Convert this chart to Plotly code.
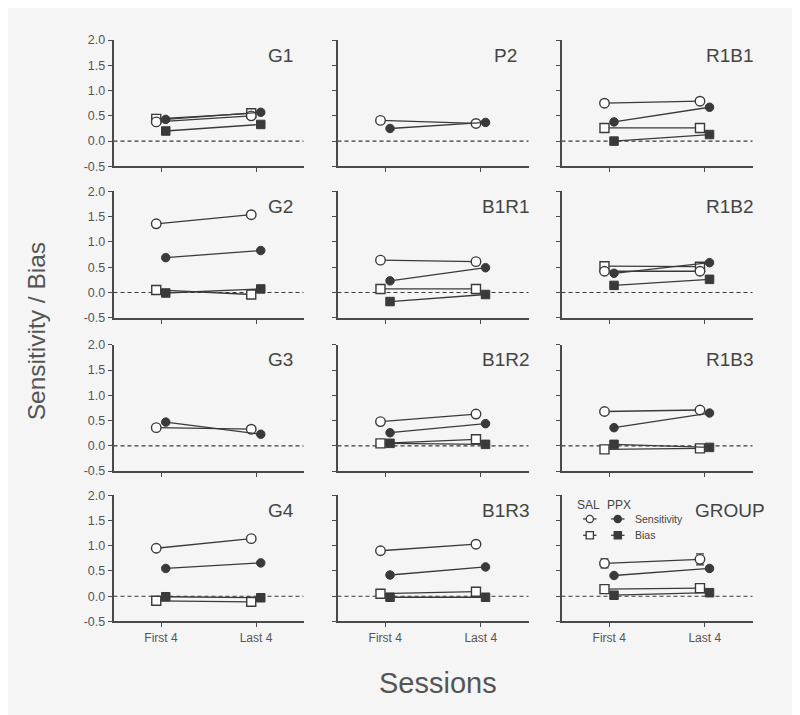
import plotly.graph_objects as go

# ---------------- data ----------------
panels = ["G1", "P2", "R1B1", "G2", "B1R1", "R1B2", "G3", "B1R2", "R1B3", "G4", "B1R3", "GROUP"]
sessions = ["First 4", "Last 4"]
sal_sens = [[0.38, 0.50], [0.41, 0.35], [0.75, 0.79], [1.36, 1.54], [0.64, 0.61], [0.42, 0.42],
            [0.36, 0.33], [0.48, 0.63], [0.68, 0.71], [0.95, 1.14], [0.90, 1.03], [0.65, 0.73]]
ppx_sens = [[0.43, 0.57], [0.25, 0.37], [0.38, 0.67], [0.69, 0.83], [0.23, 0.49], [0.38, 0.59],
            [0.47, 0.23], [0.26, 0.44], [0.36, 0.65], [0.55, 0.66], [0.42, 0.58], [0.41, 0.55]]
sal_bias = [[0.44, 0.55], None, [0.26, 0.26], [0.05, -0.04], [0.07, 0.07], [0.52, 0.51],
            None, [0.05, 0.13], [-0.07, -0.05], [-0.09, -0.11], [0.05, 0.09], [0.14, 0.16]]
ppx_bias = [[0.20, 0.33], None, [0.00, 0.13], [-0.01, 0.07], [-0.18, -0.04], [0.14, 0.26],
            None, [0.05, 0.03], [0.03, -0.03], [-0.01, -0.03], [-0.02, -0.02], [0.02, 0.07]]
group_sal_sens_err = [0.09, 0.11]
y_ticks = [-0.5, 0.0, 0.5, 1.0, 1.5, 2.0]
y_tick_labels = ["-0.5", "0.0", "0.5", "1.0", "1.5", "2.0"]

# ---------------- style / geometry ----------------
W, H = 800, 715
FONT = "Liberation Sans, Arial, sans-serif"
DARK = "#3a3a3a"
AX = "#4a4a4a"
TXT = "#555555"
BG = "#f5f5f5"

# target positions (pixels in the final picture) -> layout coordinates
def px_x(x):
    return (x - 7.5) / W

def px_y(y):
    return 1 - ((y - 15) / 0.978) / H

col_px = [(113, 303), (337, 528), (561, 752)]
row_px = [(40, 166), (191, 317), (344, 470), (494, 620)]
OFF = 0.05
sess_idx = list(range(len(sessions)))

fig = go.Figure()
layout = dict(width=W, height=H, margin=dict(l=0, r=0, t=0, b=0),
              paper_bgcolor=BG, plot_bgcolor=BG, showlegend=False,
              font=dict(family=FONT, color=TXT))
annotations = []
shapes = []

for i, name in enumerate(panels):
    r, c = divmod(i, 3)
    k = i + 1
    xa = "x" if k == 1 else f"x{k}"
    ya = "y" if k == 1 else f"y{k}"
    x0, x1 = col_px[c]
    yt, yb = row_px[r]
    layout[f"xaxis{'' if k == 1 else k}"] = dict(
        domain=[px_x(x0), px_x(x1)], anchor=ya, range=[-0.5, 1.5],
        tickvals=sess_idx, ticktext=sessions, showticklabels=(r == 3),
        showline=True, linecolor=AX, linewidth=1.6, ticks="outside", ticklen=4,
        tickwidth=1.4, tickcolor=AX, showgrid=False, zeroline=False,
        tickfont=dict(size=12, color=TXT, family=FONT))
    layout[f"yaxis{'' if k == 1 else k}"] = dict(
        domain=[px_y(yb), px_y(yt)], anchor=xa, range=[-0.5, 2.0],
        tickvals=y_ticks, ticktext=y_tick_labels, showticklabels=(c == 0),
        showline=True, linecolor=AX, linewidth=1.6, ticks="outside", ticklen=4,
        tickwidth=1.4, tickcolor=AX, showgrid=False, zeroline=False,
        tickfont=dict(size=12.5, color=TXT, family=FONT))

    # dashed zero line
    shapes.append(dict(type="line", xref=f"{xa} domain", yref=ya, x0=0, x1=1, y0=0, y1=0,
                       line=dict(color=DARK, width=1.2, dash="4px,3px"), layer="below"))
    # panel title
    annotations.append(dict(text=name, xref=f"{xa} domain", yref=f"{ya} domain",
                            x=0.88, y=0.88, xanchor="center", yanchor="middle",
                            showarrow=False, font=dict(size=19, color="#444444", family=FONT)))

    xs_sal = [s - OFF for s in sess_idx]
    xs_ppx = [s + OFF for s in sess_idx]
    if sal_bias[i] is not None:
        fig.add_trace(go.Scatter(x=xs_sal, y=sal_bias[i], xaxis=xa, yaxis=ya, mode="lines+markers",
                                 line=dict(color=DARK, width=1.3),
                                 marker=dict(symbol="square", size=9, color="white",
                                             line=dict(color=DARK, width=1.4))))
    if ppx_bias[i] is not None:
        fig.add_trace(go.Scatter(x=xs_ppx, y=ppx_bias[i], xaxis=xa, yaxis=ya, mode="lines+markers",
                                 line=dict(color=DARK, width=1.3),
                                 marker=dict(symbol="square", size=8.5, color=DARK,
                                             line=dict(color=DARK, width=1))))
    err = None
    if name == "GROUP":
        err = dict(type="data", array=group_sal_sens_err, color=DARK, thickness=1.3, width=4)
    fig.add_trace(go.Scatter(x=xs_sal, y=sal_sens[i], xaxis=xa, yaxis=ya, mode="lines+markers",
                             line=dict(color=DARK, width=1.3), error_y=err,
                             marker=dict(symbol="circle", size=9.5, color="white",
                                         line=dict(color=DARK, width=1.4))))
    fig.add_trace(go.Scatter(x=xs_ppx, y=ppx_sens[i], xaxis=xa, yaxis=ya, mode="lines+markers",
                             line=dict(color=DARK, width=1.3),
                             marker=dict(symbol="circle", size=8.5, color=DARK,
                                         line=dict(color=DARK, width=1))))

# ---------------- legend key inside GROUP panel ----------------
gx0, gx1 = col_px[2]
gyt, gyb = row_px[3]
gw, gh = gx1 - gx0, gyb - gyt


def dx(x):
    return (x - gx0) / gw


def dy(y):
    return 1 - (y - gyt) / gh


gx, gy = "x12 domain", "y12 domain"
rx, ry = 3.6 / gw, 3.6 / gh
key_rows = [(517.7, "circle", "Sensitivity"), (534, "square", "Bias")]
for yk, shp, lab in key_rows:
    for xc, filled in [(589.3, False), (617.3, True)]:
        shapes.append(dict(type="line", xref=gx, yref=gy, x0=dx(xc - 6.7), x1=dx(xc + 6.7),
                           y0=dy(yk), y1=dy(yk), line=dict(color=DARK, width=1.3)))
        shapes.append(dict(type=("circle" if shp == "circle" else "rect"), xref=gx, yref=gy,
                           x0=dx(xc) - rx, x1=dx(xc) + rx, y0=dy(yk) - ry, y1=dy(yk) + ry,
                           fillcolor=(DARK if filled else "white"),
                           line=dict(color=DARK, width=1.3)))
    annotations.append(dict(text=lab, xref=gx, yref=gy, x=dx(632.5), y=dy(yk), xanchor="left",
                            yanchor="middle", showarrow=False,
                            font=dict(size=10.5, color="#444444", family=FONT)))
annotations.append(dict(text="SAL", xref=gx, yref=gy, x=dx(588.3), y=dy(504), xanchor="center",
                        yanchor="middle", showarrow=False, font=dict(size=12, color="#444444", family=FONT)))
annotations.append(dict(text="PPX", xref=gx, yref=gy, x=dx(618.8), y=dy(504), xanchor="center",
                        yanchor="middle", showarrow=False, font=dict(size=12, color="#444444", family=FONT)))

# ---------------- axis titles ----------------
annotations.append(dict(text="Sensitivity / Bias", xref="paper", yref="paper", x=px_x(36),
                        y=px_y(331), textangle=-90, xanchor="center", yanchor="middle",
                        showarrow=False, font=dict(size=24.5, color=TXT, family=FONT)))
annotations.append(dict(text="Sessions", xref="paper", yref="paper", x=px_x(437.5), y=px_y(681),
                        xanchor="center", yanchor="middle", showarrow=False,
                        font=dict(size=29, color=TXT, family=FONT)))

layout["annotations"] = annotations
layout["shapes"] = shapes
fig.update_layout(**layout)
fig.write_html("out.html")
